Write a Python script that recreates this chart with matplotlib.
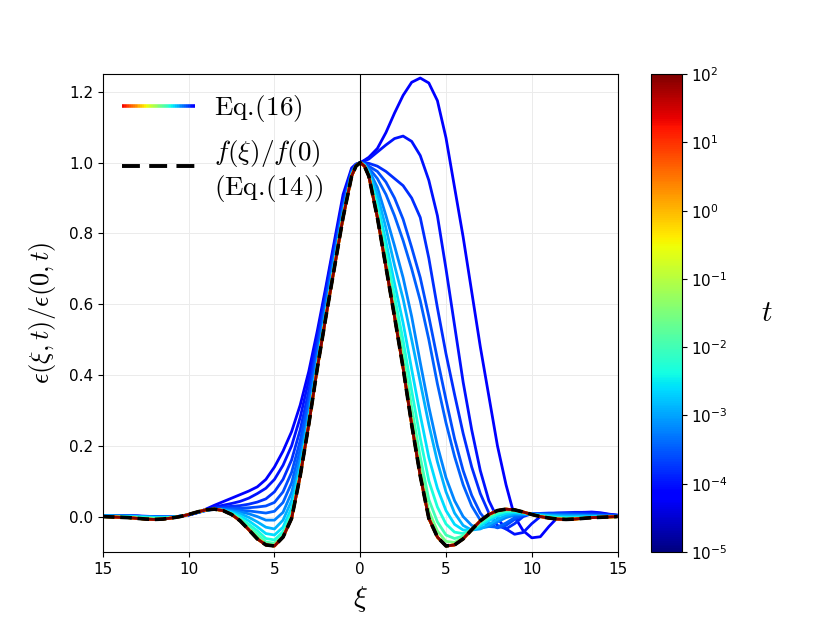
import numpy as np
import matplotlib
matplotlib.use("Agg")
import matplotlib.pyplot as plt
from matplotlib.colors import LogNorm
from matplotlib.cm import ScalarMappable
from matplotlib.lines import Line2D
from matplotlib.legend_handler import HandlerBase, HandlerLine2D
from matplotlib.collections import LineCollection
from matplotlib.font_manager import FontProperties

# ---------------- data ----------------
xi = [-15, -14.5, -14, -13.5, -13, -12.5, -12, -11.5, -11, -10.5, -10, -9.5, -9, -8.5, -8,
      -7.5, -7, -6.5, -6, -5.5, -5, -4.5, -4, -3.5, -3, -2.5, -2, -1.5, -1, -0.5, -0.25,
      0,
      0.25, 0.5, 1, 1.5, 2, 2.5, 3, 3.5, 4, 4.5, 5, 5.5, 6, 6.5, 7, 7.5, 8, 8.5, 9, 9.5,
      10, 10.5, 11, 11.5, 12, 12.5, 13, 13.5, 14, 14.5, 15]

# f(xi)/f(0)  (Eq.(14))
f_ratio = [0.000, -0.001, -0.002, -0.003, -0.005, -0.007, -0.008, -0.007, -0.004, 0.000, 0.006, 0.013, 0.019, 0.021, 0.017,
           0.006, -0.012, -0.037, -0.063, -0.080, -0.083, -0.058, -0.005, 0.115, 0.260, 0.420, 0.565, 0.705, 0.845, 0.962, 0.990,
           1.000,
           0.990, 0.962, 0.845, 0.705, 0.565, 0.420, 0.260, 0.115, -0.005, -0.058, -0.083, -0.080, -0.063, -0.037, -0.012, 0.006,
           0.017, 0.021, 0.019, 0.013, 0.006, 0.000, -0.004, -0.007, -0.008, -0.007, -0.005, -0.003, -0.002, -0.001, 0.000]

# Eq.(16) curves, log10(t) of each
log_t = [-4.2, -4.0, -3.8, -3.6, -3.45, -3.2, -2.9, -2.6, -2.3, -2.0, -1.6, -1.2, -0.8, -0.3, 0.3, 1.0, 2.0]

eps_1 = [.003, .003, .003, .002, .002, .001, .000, -.001, -.001, .000, .004, .011, .021, .032, .042,
         .052, .062, .072, .084, .105, .140, .185, .240, .315, .410, .525, .650, .780, .910, .985, .996,
         1.0,
         1.007, 1.015, 1.040, 1.085, 1.140, 1.190, 1.227, 1.239, 1.225, 1.175, 1.070, 0.930, 0.790, 0.635, 0.480, 0.340,
         0.200, 0.090, 0.000, -0.040, -0.060, -0.057, -0.028, -0.003, 0.004, 0.009, 0.012, 0.013, 0.011, 0.007, 0.004]
eps_2 = [.003, .003, .002, .002, .001, .000, .000, -.001, -.001, .001, .005, .012, .020, .027, .032,
         .037, .043, .052, .065, .080, .105, .145, .200, .280, .385, .510, .640, .770, .895, .980, .995,
         1.0,
         1.005, 1.010, 1.030, 1.050, 1.068, 1.075, 1.060, 1.020, 0.950, 0.850, 0.700, 0.540, 0.380, 0.245, 0.130, 0.045,
         -0.005, -0.035, -0.050, -0.045, -0.020, 0.000, 0.008, 0.010, 0.011, 0.012, 0.012, 0.011, 0.009, 0.006, 0.004]
eps_3 = [.003, .003, .002, .002, .001, .000, -.001, -.001, -.001, .001, .005, .011, .018, .024, .027,
         .029, .031, .035, .041, .050, .070, .105, .160, .245, .355, .490, .625, .757, .885, .977, .994,
         1.0,
         1.000, 0.998, 0.990, 0.975, 0.955, 0.935, 0.900, 0.845, 0.730, 0.590, 0.460, 0.345, 0.235, 0.140, 0.065, 0.010,
         -0.025, -0.035, -0.020, 0.000, 0.008, 0.009, 0.010, 0.010, 0.010, 0.010, 0.009, 0.008, 0.007, 0.005, 0.003]
eps_4 = [.003, .003, .002, .002, .001, .000, -.001, -.001, -.001, .001, .005, .011, .017, .022, .024,
         .024, .024, .025, .027, .030, .040, .070, .125, .215, .330, .470, .610, .745, .875, .974, .993,
         1.0,
         0.997, 0.990, 0.975, 0.945, 0.900, 0.840, 0.760, 0.675, 0.565, 0.445, 0.330, 0.220, 0.130, 0.060, 0.010, -0.020,
         -0.032, -0.025, -0.008, 0.004, 0.008, 0.008, 0.008, 0.008, 0.008, 0.007, 0.006, 0.005, 0.004, 0.003, 0.002]
eps_5 = [.003, .003, .002, .002, .001, .000, -.001, -.001, -.001, .001, .005, .011, .017, .021, .021,
         .020, .018, .016, .013, .010, .015, .040, .095, .190, .310, .455, .598, .735, .868, .972, .993,
         1.0,
         0.996, 0.985, 0.955, 0.910, 0.850, 0.780, 0.700, 0.610, 0.500, 0.375, 0.265, 0.170, 0.090, 0.030, -0.010, -0.028,
         -0.030, -0.018, -0.003, 0.005, 0.007, 0.007, 0.006, 0.006, 0.005, 0.005, 0.004, 0.004, 0.003, 0.002, 0.002]
eps_6 = [.002, .002, .002, .001, .001, .000, -.001, -.001, -.001, .001, .006, .012, .018, .021, .020,
         .017, .013, .008, .000, -.010, -.010, .012, .068, .165, .293, .443, .588, .727, .862, .970, .992,
         1.0,
         0.995, 0.980, 0.930, 0.850, 0.765, 0.675, 0.565, 0.435, 0.310, 0.200, 0.110, 0.045, 0.000, -0.025, -0.033, -0.028,
         -0.015, -0.003, 0.004, 0.006, 0.006, 0.005, 0.005, 0.004, 0.004, 0.003, 0.003, 0.002, 0.002, 0.001, 0.001]
eps_7 = [.002, .002, .001, .001, .000, -.001, -.002, -.002, -.002, .001, .006, .012, .018, .021, .019,
         .014, .008, -.002, -.015, -.030, -.035, -.010, .045, .145, .280, .435, .580, .720, .857, .968, .992,
         1.0,
         0.994, 0.975, 0.910, 0.815, 0.710, 0.615, 0.500, 0.380, 0.260, 0.155, 0.070, 0.010, -0.025, -0.038, -0.035, -0.022,
         -0.008, 0.003, 0.008, 0.008, 0.007, 0.005, 0.003, 0.002, 0.001, 0.001, 0.001, 0.001, 0.001, 0.001, 0.000]
eps_8 = [.001, .001, .000, .000, -.001, -.002, -.003, -.003, -.002, .001, .006, .013, .019, .021, .018,
         .011, .002, -.012, -.029, -.048, -.052, -.030, .025, .133, .272, .430, .575, .715, .853, .966, .991,
         1.0,
         0.993, 0.970, 0.887, 0.777, 0.659, 0.547, 0.416, 0.287, 0.167, 0.080, 0.017, -0.022, -0.038, -0.038, -0.027, -0.012,
         0.001, 0.009, 0.012, 0.010, 0.007, 0.003, 0.001, -0.001, -0.002, -0.002, -0.001, -0.001, 0.000, 0.000, 0.000]
eps_9 = [.000, .000, -.001, -.001, -.002, -.003, -.004, -.004, -.003, .000, .006, .013, .019, .021, .017,
         .009, -.004, -.022, -.040, -.062, -.066, -.043, .010, .125, .267, .426, .571, .711, .850, .964, .991,
         1.0,
         0.992, 0.967, 0.871, 0.749, 0.623, 0.498, 0.356, 0.221, 0.101, 0.027, -0.021, -0.044, -0.048, -0.037, -0.021, -0.005,
         0.007, 0.014, 0.015, 0.011, 0.006, 0.002, -0.001, -0.003, -0.004, -0.004, -0.003, -0.002, -0.001, 0.000, 0.000]
eps_10 = [.000, -.001, -.001, -.002, -.003, -.005, -.006, -.005, -.003, .000, .006, .013, .019, .021, .017,
          .008, -.008, -.030, -.050, -.072, -.075, -.052, .002, .120, .263, .423, .568, .708, .848, .963, .990,
          1.0,
          0.991, 0.965, 0.858, 0.727, 0.594, 0.459, 0.308, 0.168, 0.048, -0.015, -0.052, -0.062, -0.055, -0.037, -0.016, 0.000,
          0.012, 0.017, 0.017, 0.012, 0.006, 0.001, -0.002, -0.005, -0.006, -0.006, -0.004, -0.003, -0.002, -0.001, 0.000]
eps_11 = [.000, -.001, -.002, -.003, -.005, -.007, -.007, -.006, -.004, .000, .006, .013, .019, .021, .017,
          .006, -.010, -.034, -.058, -.077, -.080, -.056, -.003, .117, .262, .421, .566, .706, .846, .962, .990,
          1.0,
          0.990, 0.963, 0.850, 0.714, 0.577, 0.436, 0.279, 0.136, 0.016, -0.041, -0.070, -0.073, -0.060, -0.037, -0.014, 0.004,
          0.015, 0.020, 0.018, 0.013, 0.006, 0.000, -0.003, -0.006, -0.007, -0.007, -0.005, -0.003, -0.002, -0.001, 0.000]

eps_curves = [eps_1, eps_2, eps_3, eps_4, eps_5, eps_6, eps_7, eps_8, eps_9, eps_10, eps_11,
              f_ratio, f_ratio, f_ratio, f_ratio, f_ratio, f_ratio]

x_ticks = [-15, -10, -5, 0, 5, 10, 15]
x_tick_labels = ["15", "10", "5", "0", "5", "10", "15"]
y_ticks = [0.0, 0.2, 0.4, 0.6, 0.8, 1.0, 1.2]
cbar_ticks = [1e-5, 1e-4, 1e-3, 1e-2, 1e-1, 1e0, 1e1, 1e2]

# ---------------- plot ----------------
fig = plt.figure(figsize=(8.3, 6.23), dpi=100)
ax = fig.add_axes([0.124, 0.114, 0.620, 0.767])

cmap = plt.get_cmap("jet")
norm = LogNorm(vmin=1e-5, vmax=1e2)

for lt, ys in zip(log_t, eps_curves):
    ax.plot(xi, ys, color=cmap(norm(10.0 ** lt)), lw=2.0, zorder=2,
            solid_joinstyle="round", solid_capstyle="round")

ax.plot(xi, f_ratio, color="k", lw=2.6, ls=(0, (3.2, 1.6)), zorder=3)
ax.axvline(0, color="k", lw=0.8, zorder=1)

ax.set_xlim(-15, 15)
ax.set_ylim(-0.1, 1.25)
ax.set_xticks(x_ticks)
ax.set_xticklabels(x_tick_labels)
ax.set_yticks(y_ticks)
ax.tick_params(labelsize=11)
ax.grid(True, color="0.92", lw=0.7, zorder=0)
ax.set_axisbelow(True)

ax.set_xlabel(r"$\xi$", fontsize=21, math_fontfamily="cm", labelpad=5)
ax.set_ylabel(r"$\epsilon(\xi,t)/\epsilon(0,t)$", fontsize=19, math_fontfamily="cm", labelpad=8)


class GradientProxy:
    pass


class GradientHandler(HandlerBase):
    def create_artists(self, legend, orig_handle, xdescent, ydescent, width, height, fontsize, trans):
        n = 40
        xs = np.linspace(-xdescent, width - xdescent, n + 1)
        yc = height / 2.0 - ydescent
        segs = [[(xs[i], yc), (xs[i + 1], yc)] for i in range(n)]
        cols = cmap(np.linspace(0.9, 0.12, n))
        lc = LineCollection(segs, colors=cols, linewidths=2.6, transform=trans)
        return [lc]


class ShiftedLineHandler(HandlerLine2D):
    def create_artists(self, legend, orig_handle, xdescent, ydescent, width, height, fontsize, trans):
        return super().create_artists(legend, orig_handle, xdescent, ydescent - 8.0,
                                      width, height, fontsize, trans)


dash_handle = Line2D([], [], color="k", lw=2.8, ls=(0, (4.6, 2.4)))
leg = ax.legend([GradientProxy(), dash_handle],
                [r"$\mathrm{Eq.\!(16)}$", r"$f(\xi)/f(0)$" + "\n" + r"$(\mathrm{Eq.\!(14)})$"],
                handler_map={GradientProxy: GradientHandler(), dash_handle: ShiftedLineHandler()},
                loc="upper left", frameon=False, handlelength=2.7, handletextpad=0.7,
                labelspacing=0.5, borderaxespad=0.3,
                prop=FontProperties(size=19.5, math_fontfamily="cm"))

cax = fig.add_axes([0.784, 0.114, 0.0373, 0.767])
sm = ScalarMappable(norm=norm, cmap=cmap)
cb = fig.colorbar(sm, cax=cax)
cb.set_ticks(cbar_ticks)
cb.minorticks_off()
cb.ax.tick_params(labelsize=11)
cb.set_label(r"$t$", rotation=0, fontsize=21, math_fontfamily="cm", labelpad=28, va="center")

fig.savefig("out.png", dpi=100)
